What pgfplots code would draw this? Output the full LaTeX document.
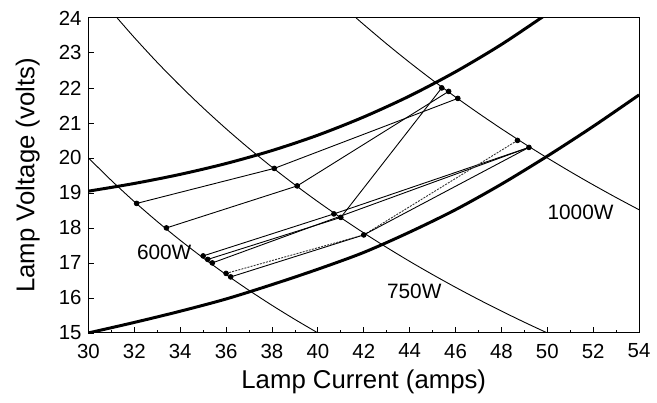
\documentclass[border=0pt]{standalone}
\usepackage{fontspec}
\setmainfont{Liberation Sans}
\usepackage{pgfplots}
\pgfplotsset{compat=1.18}
\begin{document}
\begin{tikzpicture}
\begin{axis}[
  scale only axis,
  width=277bp, height=158.5bp,
  xmin=30, xmax=54, ymin=15, ymax=24,
  xtick={30,32,...,54}, minor x tick num=1,
  ytick={15,...,24},
  tick pos=left,
  major tick length=3bp, minor tick length=1.5bp,
  tick style={black, line width=0.4pt},
  axis line style={line width=0.5pt},
  /pgf/number format/assume math mode=true,
  ticklabel style={font=\fontsize{10.3}{12}\selectfont},
  xticklabel style={yshift=-2bp},
  label style={font=\fontsize{13}{15}\selectfont},
  xlabel={Lamp Current (amps)},
  ylabel={Lamp Voltage (volts)},
  xlabel style={at={(rel axis cs:0.5,0)}, anchor=center, yshift=-24.5bp},
  ylabel style={at={(rel axis cs:0,0.5)}, anchor=center, yshift=30.5bp},
  clip=true,
]
% lamp operating envelope
\addplot[black, line width=1.5bp, smooth] coordinates {
  (30,19.05) (32,19.27) (34,19.53) (36,19.84) (38,20.21) (40,20.65)
  (42,21.17) (44,21.77) (46,22.46) (48,23.24) (50,24.12)
};
\addplot[black, line width=1.5bp, smooth] coordinates {
  (30,15.0) (32,15.3) (34,15.62) (36,15.97) (38,16.38) (40,16.82)
  (42,17.3) (44,17.88) (46,18.52) (48,19.25) (50,20.05) (52,20.9) (54,21.8)
};
% constant power curves
\addplot[black, line width=0.45bp, smooth] coordinates {
  (30,20) (31,19.355) (32,18.75) (33,18.182) (34,17.647) (35,17.143)
  (36,16.667) (37,16.216) (38,15.789) (39,15.385) (40,15.0)
};
\addplot[black, line width=0.45bp, smooth] coordinates {
  (31.25,24) (32,23.438) (33,22.727) (34,22.059) (35,21.429) (36,20.833)
  (37,20.27) (38,19.737) (39,19.231) (40,18.75) (41,18.293) (42,17.857)
  (43,17.442) (44,17.045) (45,16.667) (46,16.304) (47,15.957) (48,15.625)
  (49,15.306) (50,15.0)
};
\addplot[black, line width=0.45bp, smooth] coordinates {
  (41.667,24) (42,23.81) (43,23.256) (44,22.727) (45,22.222) (46,21.739)
  (47,21.277) (48,20.833) (49,20.408) (50,20) (51,19.608) (52,19.231)
  (53,18.868) (54,18.519)
};
% individual lamps at 600, 750 and 1000 W
\addplot[black, line width=0.45bp] coordinates {(32.1,18.7) (38.1,19.7) (46.1,21.7)};
\addplot[black, line width=0.45bp] coordinates {(33.4,18.0) (39.1,19.2) (45.7,21.9)};
\addplot[black, line width=0.45bp] coordinates {(35.0,17.2) (40.7,18.4) (49.2,20.3)};
\addplot[black, line width=0.45bp] coordinates {(35.2,17.1) (41.0,18.3) (45.4,22.0)};
\addplot[black, line width=0.45bp] coordinates {(35.4,17.0) (49.2,20.3)};
\addplot[black!80, line width=0.45bp, dash pattern=on 1bp off 0.6bp] coordinates {(36.0,16.7) (42.0,17.8) (48.7,20.5)};
\addplot[black, line width=0.45bp] coordinates {(36.2,16.6) (42.0,17.8) (49.2,20.3)};
% measured points
\addplot[only marks, mark=*, mark size=1.2bp, black] coordinates {
  (32.1,18.7) (33.4,18.0) (35.0,17.2) (35.2,17.1) (35.4,17.0) (36.0,16.7) (36.2,16.6)
  (38.1,19.7) (39.1,19.2) (40.7,18.4) (41.0,18.3) (42.0,17.8)
  (45.4,22.0) (45.7,21.9) (46.1,21.7) (48.7,20.5) (49.2,20.3)
};
\node[font=\fontsize{10.5}{12}\selectfont] at (axis cs:33.3,17.3) {600W};
\node[font=\fontsize{10.5}{12}\selectfont] at (axis cs:44.2,16.2) {750W};
\node[font=\fontsize{10.5}{12}\selectfont] at (axis cs:51.45,18.45) {1000W};
\end{axis}
% page margins as in the reference
\path ([xshift=-44.5bp,yshift=-35bp]current axis.south west)
  rectangle ([xshift=7bp,yshift=9bp]current axis.north east);
\end{tikzpicture}
\end{document}
